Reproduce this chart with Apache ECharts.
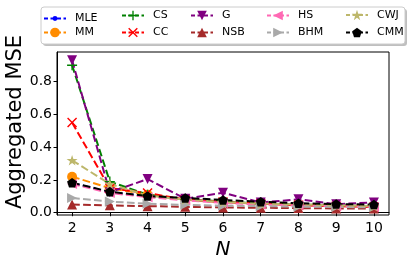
<!DOCTYPE html>
<html>
<head>
<meta charset="utf-8">
<script src="https://cdn.jsdelivr.net/npm/echarts@6/dist/echarts.min.js"></script>
<style>html,body{margin:0;padding:0;background:#fff}#c{width:415px;height:266px}</style>
</head>
<body>
<div id="c"></div>
<script>
var Ns = [2, 3, 4, 5, 6, 7, 8, 9, 10];
var xTicks = [2, 3, 4, 5, 6, 7, 8, 9, 10];
var yTicks = [0, 0.2, 0.4, 0.6, 0.8];
var MLE = [0.180, 0.125, 0.100, 0.080, 0.065, 0.055, 0.050, 0.045, 0.040];
var MM  = [0.220, 0.150, 0.110, 0.080, 0.065, 0.055, 0.050, 0.045, 0.040];
var CS  = [0.900, 0.190, 0.110, 0.080, 0.070, 0.055, 0.050, 0.045, 0.040];
var CC  = [0.550, 0.150, 0.120, 0.080, 0.065, 0.055, 0.045, 0.040, 0.035];
var G   = [0.930, 0.125, 0.205, 0.085, 0.122, 0.062, 0.082, 0.052, 0.063];
var NSB = [0.050, 0.045, 0.040, 0.036, 0.032, 0.030, 0.028, 0.026, 0.025];
var HS  = [0.175, 0.120, 0.095, 0.075, 0.060, 0.050, 0.045, 0.040, 0.035];
var BHM = [0.090, 0.068, 0.055, 0.048, 0.043, 0.040, 0.037, 0.035, 0.033];
var CWJ = [0.320, 0.175, 0.105, 0.080, 0.065, 0.055, 0.050, 0.045, 0.040];
var CMM = [0.183, 0.128, 0.102, 0.090, 0.078, 0.067, 0.058, 0.053, 0.050];
var names = ['MLE','MM','CS','CC','G','NSB','HS','BHM','CWJ','CMM'];
var values = [MLE, MM, CS, CC, G, NSB, HS, BHM, CWJ, CMM];

var PLUS = 'path://M4.3,0L5.7,0L5.7,4.3L10,4.3L10,5.7L5.7,5.7L5.7,10L4.3,10L4.3,5.7L0,5.7L0,4.3L4.3,4.3Z';
var CROSS = 'path://M1,0L5,4L9,0L10,1L6,5L10,9L9,10L5,6L1,10L0,9L4,5L0,1Z';
var TDOWN = 'path://M0,0L2,0L1,2Z';
var TUP = 'path://M1,0L2,2L0,2Z';
var TLEFT = 'path://M0,1L2,0L2,2Z';
var TRIGHT = 'path://M0,0L2,1L0,2Z';
var PENT = 'path://M5,0L9.755,3.455L7.939,9.045L2.061,9.045L0.245,3.455Z';
var STAR = 'path://M5,0L6.122,3.455L9.755,3.455L6.817,5.59L7.939,9.045L5,6.91L2.061,9.045L3.183,5.59L0.245,3.455L3.878,3.455Z';

var styles = [
  {c:'#0000ff', s:'circle', z:5, lh:6},
  {c:'#ff8c00', s:'circle', z:10, lh:12},
  {c:'#008000', s:PLUS, z:10, lh:12},
  {c:'#ff0000', s:CROSS, z:10, lh:12},
  {c:'#800080', s:TDOWN, z:10, lh:12},
  {c:'#a52a2a', s:TUP, z:10, lh:12},
  {c:'#ff69b4', s:TLEFT, z:10, lh:12},
  {c:'#a9a9a9', s:TRIGHT, z:10, lh:12},
  {c:'#bdb76b', s:STAR, z:11, lh:13},
  {c:'#000000', s:PENT, z:10, lh:12}
];
var DASH = [7.7, 3.3];

var series = names.map(function(n, i){
  var st = styles[i];
  return {
    name: n, type: 'line',
    data: Ns.map(function(x, j){ return [x, values[i][j]]; }),
    symbol: st.s, symbolSize: st.z, symbolKeepAspect: true,
    showAllSymbol: true,
    lineStyle: {color: st.c, width: 2, type: DASH},
    itemStyle: {color: st.c, opacity: 1},
    emphasis: {disabled: true},
    animation: false
  };
});

var textLefts = [74, 152, 221, 297, 376];
var rowTops = [16, 33];
var legends = names.map(function(n, i){
  var col = Math.floor(i / 2), row = i % 2;
  var lh = styles[i].lh;
  return {
    data: [n], left: textLefts[col] - 31, top: rowTops[row] - lh / 2,
    itemWidth: 22, itemHeight: lh, padding: 0, selectedMode: false,
    lineStyle: {type: [4, 2.5], width: 2},
    textStyle: {fontFamily: 'DejaVu Sans', fontSize: 11, color: '#000', padding: [0,0,0,4]}
  };
});

var chart = echarts.init(document.getElementById('c'), null, {renderer: 'canvas'});
chart.setOption({
  animation: false,
  backgroundColor: '#fff',
  grid: {left: 57, top: 52, right: 26, bottom: 51, show: true, borderColor: '#000', borderWidth: 1, backgroundColor: 'transparent'},
  legend: legends,
  graphic: [
    {type: 'rect', shape: {x: 43, y: 9, width: 364, height: 37, r: 3}, style: {fill: 'rgba(0,0,0,0.25)'}, z: 1},
    {type: 'rect', shape: {x: 41, y: 7, width: 364, height: 37, r: 3}, style: {fill: '#fff', stroke: '#cccccc', lineWidth: 1}, z: 2},
    {type: 'text', x: 16, y: 122, rotation: Math.PI / 2,
     style: {text: 'Aggregated MSE', fontFamily: 'DejaVu Sans', fontSize: 21, fill: '#000', align: 'center', verticalAlign: 'middle'}, z: 5}
  ],
  xAxis: {
    type: 'value', min: 1.6, max: 10.4,
    name: 'N', nameLocation: 'middle', nameGap: 24,
    nameTextStyle: {fontFamily: 'DejaVu Sans', fontSize: 20, fontStyle: 'italic', color: '#000'},
    axisLine: {show: true, lineStyle: {color: '#000', width: 1}},
    axisTick: {show: true, length: 3.5, lineStyle: {color: '#000'}, customValues: xTicks},
    axisLabel: {fontFamily: 'DejaVu Sans', fontSize: 14, color: '#000', margin: 6, customValues: xTicks},
    splitLine: {show: false}
  },
  yAxis: {
    type: 'value', min: -0.014, max: 0.981,
    axisLine: {show: true, lineStyle: {color: '#000', width: 1}},
    axisTick: {show: true, length: 3.5, lineStyle: {color: '#000'}, customValues: yTicks},
    axisLabel: {fontFamily: 'DejaVu Sans', fontSize: 14, color: '#000', margin: 5, customValues: yTicks,
      formatter: function(v){ return v.toFixed(1); }},
    splitLine: {show: false}
  },
  series: series
});
</script>
</body>
</html>
